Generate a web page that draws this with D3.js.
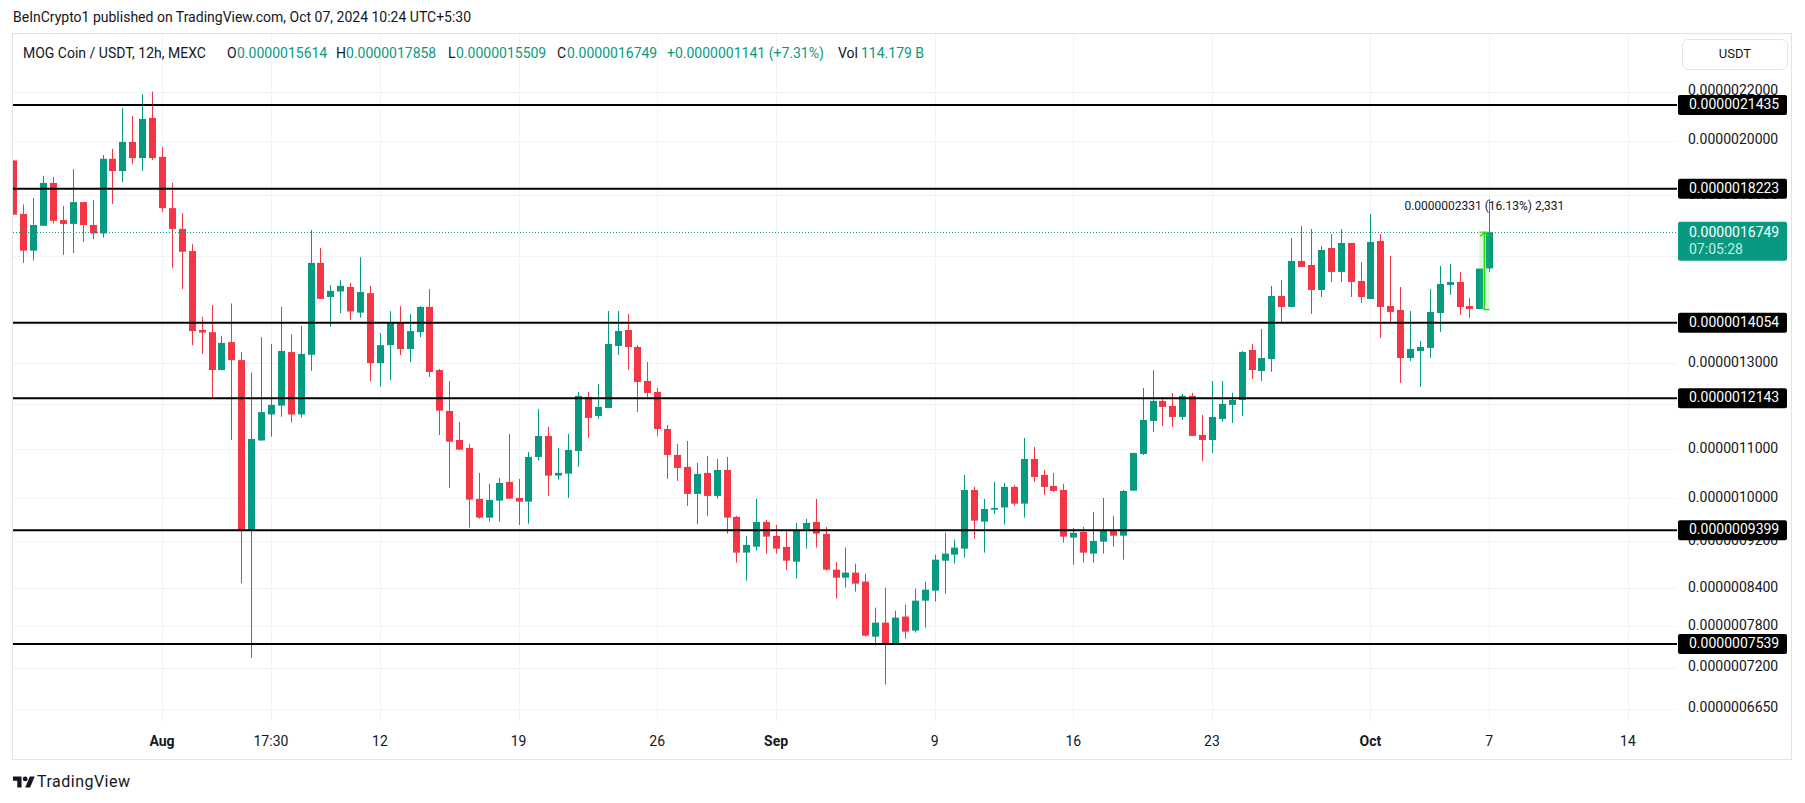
<!DOCTYPE html>
<html>
<head>
<meta charset="utf-8">
<script src="https://cdn.jsdelivr.net/npm/d3@7"></script>
<style>
  body { margin: 0; background: #fff; }
  svg { display: block; font-family: Roboto, "Liberation Sans", sans-serif; }
</style>
</head>
<body>
<div id="chart"></div>
<script>
// --- DATA (prices in units of 1e-10 USDT, 12h candles) ---
const UNIT = 1e-10;
const firstCandle = Date.UTC(2024, 6, 24, 12); // Jul 24 17:30 UTC+5:30
const HALF_DAY = 12 * 3600 * 1000;

const opens = [19250,17355,16161,16959,18431,17149,17022,17757,16986,16710,19313,18858,19952,19340,20906,19385,17550,16859,16149,13861,
  13799,12822,13535,13072,9405,11186,11765,11968,13277,11765,13208,15783,14774,14930,15064,14332,14884,12995,13456,14048,
  13357,13799,14493,12822,11845,11197,11025,9988,9632,9955,10322,10007,9935,10834,11285,10449,10490,10961,12171,11731,
  11914,13435,13858,13409,12554,12290,11438,10877,10627,10085,10504,10046,10565,9645,9000,9105,9552,9296,9100,8844,
  9423,9552,9333,8707,8574,8658,8508,7647,7858,7545,7951,7737,8200,8361,8861,8965,9070,10163,9558,9782,
  9824,10223,9897,10792,10464,10242,10163,9266,9369,8983,9194,9405,9301,10149,10898,11618,12077,11961,11708,12195,
  11307,11197,11663,11984,12100,13331,12799,13100,14803,14491,15842,15720,14976,16246,15509,16405,15240,14717,16468,14519,
  14406,13125,13305,13384,14323,15122,15210,14519,14434,15614];
const highs = [19250,17678,17901,18675,18649,17626,18928,17757,17823,19457,19687,21315,20984,21889,22004,19760,18431,17380,16367,14216,
  14547,13698,14589,13277,12755,13666,13485,14493,13738,13964,16823,16246,15120,15263,15175,15959,15096,13778,14373,14513,
  14290,14513,15005,12849,12549,11595,11111,10504,10282,10403,11328,10383,10940,11891,11483,11025,11328,12290,12290,12482,
  14378,14378,14296,13462,13025,12385,11528,11111,11175,10709,10855,10792,10834,9664,9296,9988,9589,9497,9405,9534,
  9608,9988,9460,8839,9088,8810,8641,8091,8410,8043,8138,8393,8508,8965,9356,9229,10464,10223,9988,10322,
  10302,10262,11241,11046,10565,10504,10282,9442,9460,9739,10007,9664,10163,10919,12385,12824,12171,12266,12242,12266,
  11754,12554,12554,12266,13305,13488,13885,15093,15269,16565,16955,16855,16310,16694,16855,16405,15811,17354,16694,15996,
  15063,14378,13566,15005,15690,15751,15508,14746,15608,17858];
const lows = [17330,15783,15854,16959,17035,16029,16089,16439,16526,16574,17693,18457,19127,18858,19268,17421,15632,15005,13456,13229,
  12128,12822,11195,8482,7340,11186,11269,11713,11584,11697,12802,14720,13945,14320,14130,14193,12549,12412,12578,13198,
  13022,13666,12652,11302,10205,10988,9447,9613,9558,9558,9993,9497,9521,10757,10046,10368,10007,10627,11241,11663,
  11914,13203,12824,11822,12171,11285,10383,10342,9853,9515,9664,9993,9338,8827,8525,9035,8983,8983,8707,8558,
  9070,9088,8691,8232,8410,8345,7647,7516,6969,7545,7617,7707,7782,8184,8312,8810,8913,9248,9000,9707,
  9503,9858,9632,10322,10066,10124,9176,8793,8827,8827,8983,9105,8878,10149,10877,11372,11506,11483,11640,11285,
  10750,10919,11602,11573,11731,12602,12554,12775,14076,14491,15659,14296,14774,15210,15210,14774,14603,14717,13645,14076,
  12506,13050,12409,13125,13805,14832,14268,14185,14434,15509];
const closes = [17330,16161,16986,18431,17125,17022,17757,16986,16710,19313,18858,19952,19340,20862,19340,17550,16859,16127,13829,13789,
  12822,13516,13072,9391,11219,11818,11986,13305,11765,13229,15783,14720,14950,15096,14365,14918,12995,13456,14048,13357,
  13829,14493,12775,11852,11160,10988,9974,9632,9968,10302,9993,9935,10834,11285,10449,10504,10982,12195,11686,11938,
  13488,13831,13409,12530,12266,11438,10877,10606,10085,10484,10046,10565,9632,9000,9136,9552,9284,9070,8861,9405,
  9534,9338,8707,8574,8658,8475,7662,7858,7545,7935,7722,8200,8377,8878,8983,9088,10163,9576,9795,9815,
  10223,9897,10792,10423,10223,10144,9284,9351,9000,9206,9405,9301,10144,10919,11640,12077,11938,11708,12195,11285,
  11197,11708,12007,12100,13280,12824,13125,14803,14491,15842,15659,14976,16183,15509,16405,15210,14774,16437,14491,14351,
  13125,13357,13409,14351,15152,15210,14491,14434,15608,16749];

// horizontal support / resistance levels drawn by the author
const levels = [21435, 18223, 14054, 12143, 9399, 7539];
const priceTicks = [22000, 20000, 18000, 16000, 14000, 13000, 12000, 11000, 10000, 9200, 8400, 7800, 7200, 6650];

const timeTicks = ["2024-08-01T00:00Z", "2024-08-06T12:00Z", "2024-08-12T00:00Z", "2024-08-19T00:00Z", "2024-08-26T00:00Z",
  "2024-09-01T00:00Z", "2024-09-09T00:00Z", "2024-09-16T00:00Z", "2024-09-23T00:00Z", "2024-10-01T00:00Z",
  "2024-10-07T00:00Z", "2024-10-14T00:00Z"];
const timeLabels = ["Aug", "17:30", "12", "19", "26", "Sep", "9", "16", "23", "Oct", "7", "14"];

// price range measurement on the last candle
const rangeFrom = 14418;
const rangeText = "0.0000002331 (16.13%) 2,331";
const countdown = "07:05:28";
const volume = "114.179 B";

// --- CONFIGURATION ---
const W = 1805, H = 803;
const pane = { left: 13, right: 1677, top: 34, bottom: 722 };
const axisX = 1678;
const GREEN = "#089981", RED = "#f23645", TEXT = "#131722", GRID = "#f0f3fa";
const fmt = v => (v * UNIT).toFixed(10);

const candles = opens.map((o, i) => ({
  t: new Date(firstCandle + i * HALF_DAY),
  o: o, h: highs[i], l: lows[i], c: closes[i]
}));
const last = candles[candles.length - 1];
const prev = candles[candles.length - 2];

const svg = d3.select("#chart").append("svg")
  .attr("width", W)
  .attr("height", H);

// Scales: time axis and log price axis
const x = d3.scaleUtc()
  .domain([candles[0].t, last.t])
  .range([13.4, 1489.3]);

const y = d3.scaleLog()
  .domain([levels[0], levels[levels.length - 1]])
  .range([105, 644]);

svg.append("defs").append("clipPath").attr("id", "pane-clip")
  .append("rect")
  .attr("x", pane.left).attr("y", pane.top)
  .attr("width", pane.right - pane.left).attr("height", pane.bottom - pane.top);

// --- HEADER ---
svg.append("text")
  .attr("x", 13).attr("y", 18.5)
  .attr("dominant-baseline", "middle")
  .attr("font-size", 14).attr("fill", TEXT)
  .text("BeInCrypto1 published on TradingView.com, Oct 07, 2024 10:24 UTC+5:30");

// chart frame
svg.append("rect")
  .attr("x", 12.5).attr("y", 33.5)
  .attr("width", 1779).attr("height", 726)
  .attr("fill", "none").attr("stroke", "#e0e3eb");

// --- GRID ---
const grid = svg.append("g").attr("clip-path", "url(#pane-clip)");
grid.selectAll(".vgrid")
  .data(timeTicks)
  .enter().append("line")
  .attr("x1", d => Math.round(x(new Date(d))) + 0.5)
  .attr("x2", d => Math.round(x(new Date(d))) + 0.5)
  .attr("y1", pane.top).attr("y2", pane.bottom)
  .attr("stroke", GRID);
grid.selectAll(".hgrid")
  .data(priceTicks)
  .enter().append("line")
  .attr("x1", pane.left).attr("x2", pane.right)
  .attr("y1", d => Math.round(y(d)) + 0.5)
  .attr("y2", d => Math.round(y(d)) + 0.5)
  .attr("stroke", GRID);

// --- CANDLES ---
const plot = svg.append("g").attr("clip-path", "url(#pane-clip)");
const bodyW = 7;

plot.selectAll(".wick")
  .data(candles)
  .enter().append("line")
  .attr("x1", d => Math.round(x(d.t)) + 0.5)
  .attr("x2", d => Math.round(x(d.t)) + 0.5)
  .attr("y1", d => y(d.h))
  .attr("y2", d => y(d.l))
  .attr("stroke", d => d.c >= d.o ? GREEN : RED)
  .attr("stroke-width", 1);

plot.selectAll(".body")
  .data(candles)
  .enter().append("rect")
  .attr("x", d => Math.round(x(d.t)) + 0.5 - bodyW / 2)
  .attr("y", d => y(Math.max(d.o, d.c)))
  .attr("width", bodyW)
  .attr("height", d => Math.max(1, y(Math.min(d.o, d.c)) - y(Math.max(d.o, d.c))))
  .attr("fill", d => d.c >= d.o ? GREEN : RED);

// current price dotted line
plot.append("line")
  .attr("x1", pane.left).attr("x2", pane.right)
  .attr("y1", Math.round(y(last.c)) + 0.5)
  .attr("y2", Math.round(y(last.c)) + 0.5)
  .attr("stroke", GREEN)
  .attr("stroke-dasharray", "1 2");

// level lines
plot.selectAll(".level")
  .data(levels)
  .enter().append("line")
  .attr("x1", pane.left).attr("x2", pane.right)
  .attr("y1", d => y(d)).attr("y2", d => y(d))
  .attr("stroke", "#000")
  .attr("stroke-width", 2);

// --- PRICE RANGE TOOL ---
const rx0 = x(prev.t), rx1 = x(last.t), rxm = (rx0 + rx1) / 2;
const ry0 = y(last.c), ry1 = y(rangeFrom);
const measure = plot.append("g");
measure.append("rect")
  .attr("x", rx0).attr("y", ry0)
  .attr("width", rx1 - rx0).attr("height", ry1 - ry0)
  .attr("fill", "rgba(60, 220, 40, 0.18)");
measure.append("line")
  .attr("x1", rxm).attr("x2", rxm).attr("y1", ry0).attr("y2", ry1)
  .attr("stroke", "#22d81a").attr("stroke-width", 1.5);
measure.append("line")
  .attr("x1", rxm - 1).attr("x2", rx1).attr("y1", ry1).attr("y2", ry1)
  .attr("stroke", "#22d81a").attr("stroke-width", 1.5);
measure.append("line")
  .attr("x1", rx0).attr("x2", rx1).attr("y1", ry0).attr("y2", ry0)
  .attr("stroke", "#22d81a").attr("stroke-width", 1.5)
  .attr("stroke-dasharray", "2 1");
measure.append("path")
  .attr("d", `M${rxm - 4},${ry0 + 4}L${rxm},${ry0}L${rxm + 4},${ry0 + 4}`)
  .attr("fill", "none")
  .attr("stroke", "#22d81a").attr("stroke-width", 1.5);
svg.append("text")
  .attr("x", rxm).attr("y", 206.5)
  .attr("text-anchor", "middle").attr("dominant-baseline", "middle")
  .attr("font-size", 12).attr("fill", TEXT)
  .text(rangeText);

// --- LEGEND ---
const change = last.c - prev.c;
const legend = svg.append("text")
  .attr("y", 53.5)
  .attr("dominant-baseline", "middle")
  .attr("font-size", 14).attr("fill", TEXT);
const legendParts = [
  { x: 23, t: "MOG Coin / USDT, 12h, MEXC", c: TEXT },
  { x: 227, t: "O", c: TEXT }, { x: 237, t: fmt(last.o), c: GREEN },
  { x: 336, t: "H", c: TEXT }, { x: 346, t: fmt(last.h), c: GREEN },
  { x: 448, t: "L", c: TEXT }, { x: 456, t: fmt(last.l), c: GREEN },
  { x: 557, t: "C", c: TEXT }, { x: 567, t: fmt(last.c), c: GREEN },
  { x: 667, t: "+" + fmt(change) + " (+" + (change / prev.c * 100).toFixed(2) + "%)", c: GREEN },
  { x: 838, t: "Vol", c: TEXT }, { x: 861, t: volume, c: GREEN }
];
legend.selectAll("tspan")
  .data(legendParts)
  .enter().append("tspan")
  .attr("x", d => d.x)
  .attr("fill", d => d.c)
  .text(d => d.t);

// --- PRICE AXIS ---
const axis = svg.append("g").attr("font-size", 14);
axis.append("rect")
  .attr("x", 1682.5).attr("y", 39.5)
  .attr("width", 105).attr("height", 30).attr("rx", 6)
  .attr("fill", "#fff").attr("stroke", "#e0e3eb");
axis.append("text")
  .attr("x", 1735).attr("y", 55)
  .attr("text-anchor", "middle").attr("dominant-baseline", "middle")
  .attr("font-size", 13).attr("fill", TEXT)
  .text("USDT");

axis.selectAll(".tick")
  .data(priceTicks)
  .enter().append("text")
  .attr("x", 1688).attr("y", d => y(d))
  .attr("dominant-baseline", "middle")
  .attr("fill", TEXT)
  .text(fmt);

const levelTag = axis.selectAll(".ltag")
  .data(levels)
  .enter().append("g");
levelTag.append("rect")
  .attr("x", axisX).attr("y", d => y(d) - 10)
  .attr("width", 109).attr("height", 20).attr("rx", 2)
  .attr("fill", "#000");
levelTag.append("text")
  .attr("x", 1689).attr("y", d => y(d) + 0.5)
  .attr("dominant-baseline", "middle")
  .attr("fill", "#fff")
  .text(fmt);

// last price tag with countdown
const ly = y(last.c);
axis.append("rect")
  .attr("x", axisX).attr("y", ly - 10.5)
  .attr("width", 109).attr("height", 39).attr("rx", 2)
  .attr("fill", GREEN);
axis.append("text")
  .attr("x", 1689).attr("y", ly + 1)
  .attr("dominant-baseline", "middle")
  .attr("fill", "#fff")
  .text(fmt(last.c));
axis.append("text")
  .attr("x", 1689).attr("y", ly + 18)
  .attr("dominant-baseline", "middle")
  .attr("fill", "rgba(255,255,255,0.8)")
  .text(countdown);

// --- TIME AXIS ---
svg.append("g")
  .selectAll("text")
  .data(timeTicks)
  .enter().append("text")
  .attr("x", d => x(new Date(d)))
  .attr("y", 742)
  .attr("text-anchor", "middle").attr("dominant-baseline", "middle")
  .attr("font-size", 14)
  .attr("font-weight", (d, i) => /^[A-Z]/.test(timeLabels[i]) ? "bold" : "normal")
  .attr("fill", TEXT)
  .text((d, i) => timeLabels[i]);

// --- FOOTER LOGO ---
const logo = svg.append("g").attr("transform", "translate(13,774) scale(0.61)").attr("fill", TEXT);
logo.append("path").attr("d", "M14 22H7V11H0V4h14v18z");
logo.append("circle").attr("cx", 20).attr("cy", 8).attr("r", 4);
logo.append("path").attr("d", "M28 22h-8l7.5-18h8L28 22z");
svg.append("text")
  .attr("x", 37).attr("y", 782.5)
  .attr("dominant-baseline", "middle")
  .attr("font-size", 16).attr("fill", TEXT)
  .attr("textLength", 93)
  .text("TradingView");
</script>
</body>
</html>
